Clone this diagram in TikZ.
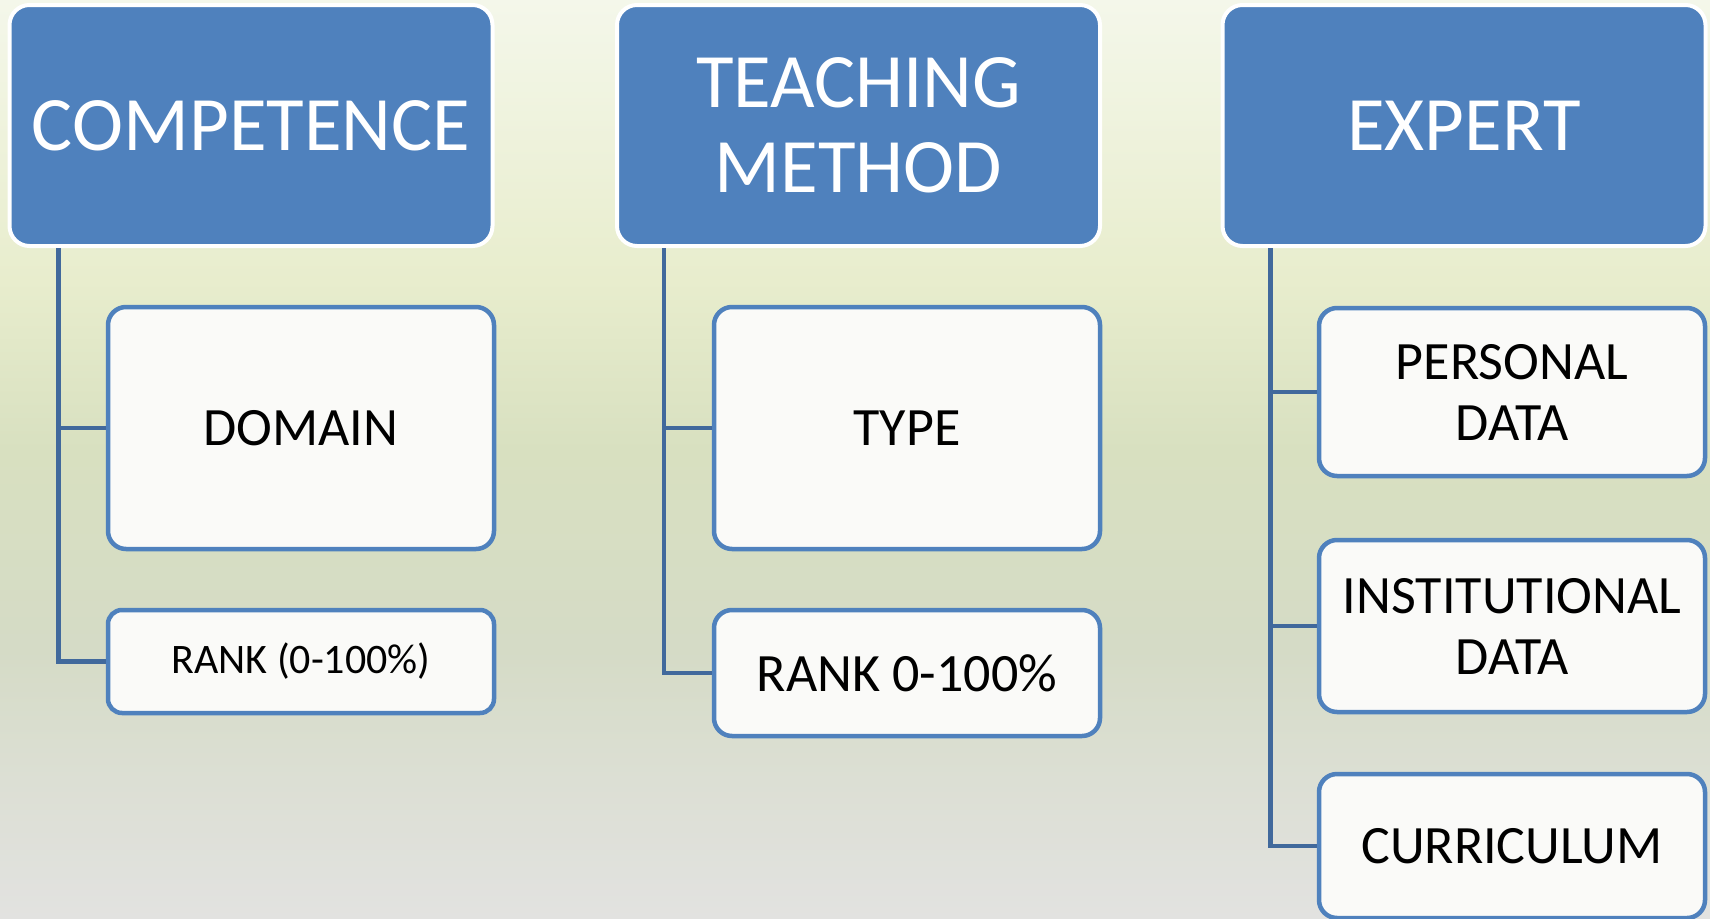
\documentclass[tikz,border=0pt]{standalone}
\usepackage{fontspec}
\setmainfont{Carlito}
\definecolor{headblue}{HTML}{4F81BD}
\definecolor{childborder}{HTML}{4F81BD}
\definecolor{childfill}{HTML}{FAFAF8}
\definecolor{linkblue}{HTML}{41699C}
\definecolor{bgA}{HTML}{E2E2E0}
\definecolor{bgB}{HTML}{DCDFD4}
\definecolor{bgC}{HTML}{D5DBC6}
\definecolor{bgD}{HTML}{D8E0C0}
\definecolor{bgE}{HTML}{E8EDCD}
\definecolor{bgF}{HTML}{F4F7EA}
\pgfdeclareverticalshading{bgshade}{100bp}{color(0bp)=(bgA); color(25bp)=(bgA); color(32.5bp)=(bgB); color(39.6bp)=(bgC); color(50.5bp)=(bgD); color(59.75bp)=(bgE); color(75bp)=(bgF); color(100bp)=(bgF)}
\tikzset{
  headbox/.style={draw=white, line width=4pt, fill=headblue, rounded corners=20pt,
    text=white, minimum width=483pt, minimum height=241pt, inner sep=0pt, outer sep=0pt,
    font=\fontsize{77}{85}\selectfont, align=center},
  childbox/.style={draw=childborder, line width=4.5pt, fill=childfill, rounded corners=18pt,
    text=black, minimum width=386pt, inner sep=0pt, outer sep=0pt,
    font=\fontsize{54}{61}\selectfont, align=center},
  link/.style={draw=linkblue, line width=4.5pt, line join=miter}
}
\begin{document}
\begin{tikzpicture}[x=1pt,y=-1pt]
\shade[shading=bgshade] (0,0) rectangle (1710,918);
\useasboundingbox (0,0) rectangle (1710,918);

% headers
\node[headbox] (comp) at (251,125.5) {COMPETENCE};
\node[headbox] (teach) at (858.5,125.5) {TEACHING\\METHOD};
\node[headbox] (expert) at (1464,125.5) {EXPERT};

% children
\node[childbox, minimum height=242pt] (dom) at (301,428) {DOMAIN};
\node[childbox, minimum height=103pt, rounded corners=14pt, font=\fontsize{42}{48}\selectfont] (rankA) at (301,661.5) {RANK (0-100\%)};
\node[childbox, minimum height=242pt] (type) at (907,428) {TYPE};
\node[childbox, minimum height=126pt] (rankB) at (907,673) {RANK 0-100\%};
\node[childbox, minimum height=168pt] (pers) at (1512,392) {PERSONAL\\DATA};
\node[childbox, minimum height=172pt] (inst) at (1512,626) {INSTITUTIONAL\\DATA};
\node[childbox, minimum height=144pt] (curr) at (1512,846) {CURRICULUM};

% connectors
\coordinate (compT) at ([xshift=49pt,yshift=-2pt]comp.south west);
\coordinate (teachT) at ([xshift=47pt,yshift=-2pt]teach.south west);
\coordinate (expertT) at ([xshift=48pt,yshift=-2pt]expert.south west);
\draw[link] (compT) |- ([xshift=-2pt]dom.west);
\draw[link] (compT) |- ([xshift=-2pt]rankA.west);
\draw[link] (teachT) |- ([xshift=-2pt]type.west);
\draw[link] (teachT) |- ([xshift=-2pt]rankB.west);
\draw[link] (expertT) |- ([xshift=-2pt]pers.west);
\draw[link] (expertT) |- ([xshift=-2pt]inst.west);
\draw[link] (expertT) |- ([xshift=-2pt]curr.west);
\end{tikzpicture}
\end{document}
